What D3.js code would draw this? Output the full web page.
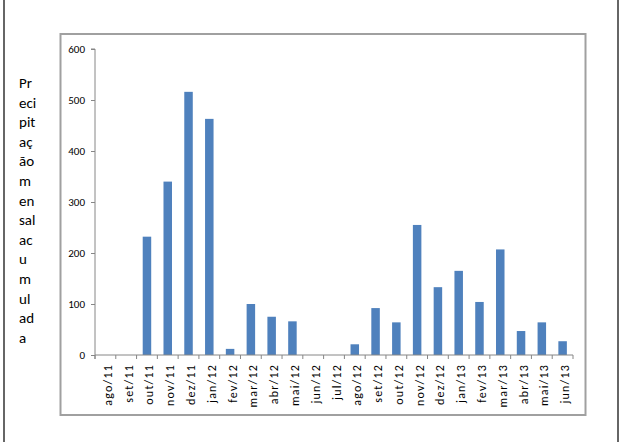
<!DOCTYPE html>
<html>
<head>
<meta charset="utf-8">
<script src="https://cdn.jsdelivr.net/npm/d3@7"></script>
<style>
  html, body { margin: 0; padding: 0; background: #fff; }
  svg { display: block; }
  text { font-family: Carlito, "Open Sans", "Liberation Sans", sans-serif; fill: #000; }
</style>
</head>
<body>
<script>
const categories = ["ago/11","set/11","out/11","nov/11","dez/11","jan/12","fev/12","mar/12","abr/12","mai/12","jun/12","jul/12","ago/12","set/12","out/12","nov/12","dez/12","jan/13","fev/13","mar/13","abr/13","mai/13","jun/13"];
const precipitation = [0, 0, 232, 340, 516, 463, 12, 100, 75, 66, 0, 0, 21, 92, 64, 255, 133, 165, 104, 207, 47, 64, 27];
const yTicks = [0, 100, 200, 300, 400, 500, 600];
const titleLines = ["Pr","eci","pit","aç","ão","m","en","sal","ac","u","m","ul","ad","a"];

const W = 621, H = 442;
const svg = d3.select("body").append("svg").attr("width", W).attr("height", H);

// outer side lines
svg.append("line").attr("x1", 4).attr("x2", 4).attr("y1", 0).attr("y2", H).attr("stroke", "#333").attr("stroke-width", 1.5);
svg.append("line").attr("x1", 618).attr("x2", 618).attr("y1", 0).attr("y2", H).attr("stroke", "#333").attr("stroke-width", 1.5);

// chart frame
svg.append("rect").attr("x", 60.5).attr("y", 34).attr("width", 525).attr("height", 381)
  .attr("fill", "#fff").attr("stroke", "#a0a0a0").attr("stroke-width", 2);

const pLeft = 95, pRight = 573, pTop = 49, pBottom = 355;
const xb = d3.scaleBand().domain(categories).range([pLeft, pRight]);
const y = d3.scaleLinear().domain([0, 600]).range([pBottom, pTop]);

// bars
svg.append("g").selectAll("rect").data(categories).join("rect")
  .attr("x", (d) => xb(d) + (xb.bandwidth() - 8.5) / 2)
  .attr("width", 8.5)
  .attr("y", (d, i) => y(precipitation[i]))
  .attr("height", (d, i) => y(0) - y(precipitation[i]))
  .attr("fill", "#4F81BD");

// y axis
const yAxis = svg.append("g").attr("transform", `translate(${pLeft},0)`)
  .call(d3.axisLeft(y).tickValues(yTicks).tickSize(4).tickPadding(4));
yAxis.select(".domain").attr("stroke", "#868686").attr("d", `M-4,${pTop}H0V${pBottom + 4}`);
yAxis.selectAll(".tick line").attr("stroke", "#868686");
yAxis.selectAll(".tick text").attr("font-size", "11px").attr("dy", "0.35em").attr("x", -10);

// x axis
const xg = svg.append("g").attr("transform", `translate(0,${pBottom})`);
xg.append("line").attr("x1", pLeft).attr("x2", pRight).attr("y1", 0).attr("y2", 0).attr("stroke", "#868686");
const bounds = categories.map((d) => xb(d)).concat([pRight]);
xg.selectAll("line.tk").data(bounds).join("line").attr("class", "tk")
  .attr("x1", (d) => d).attr("x2", (d) => d).attr("y1", 0).attr("y2", 4).attr("stroke", "#868686");
xg.selectAll("text").data(categories).join("text")
  .attr("transform", (d) => `translate(${xb(d) + xb.bandwidth() / 2 + 6.5},9) rotate(-90)`)
  .attr("text-anchor", "end")
  .attr("font-size", "12px")
  .attr("letter-spacing", "1.2px")
  .text((d) => d);

// y title wrapped
svg.append("g").selectAll("text").data(titleLines).join("text")
  .attr("x", 19).attr("y", (d, i) => 88 + i * 19.6)
  .attr("font-size", "15px")
  .text((d) => d);
</script>
</body>
</html>
